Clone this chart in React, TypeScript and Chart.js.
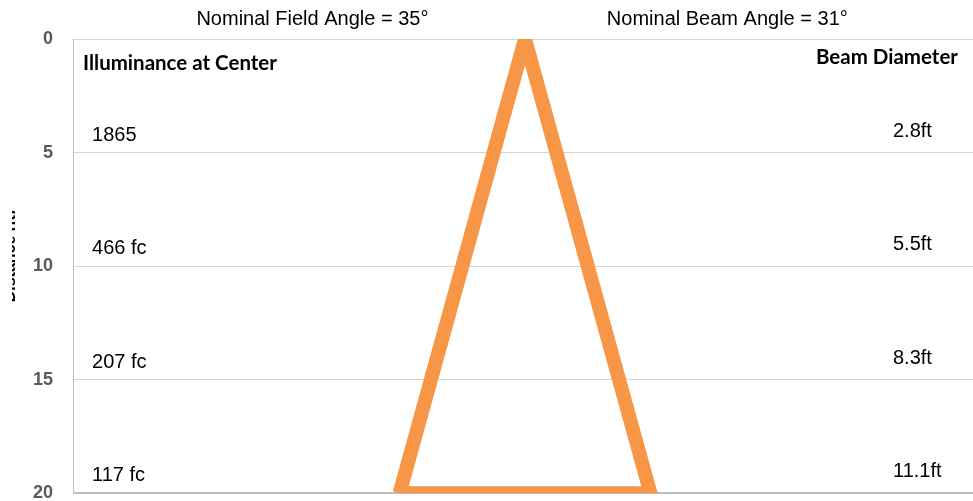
import React, { useEffect, useRef } from "react";
import { Chart, registerables } from "chart.js";

Chart.register(...registerables);

// ---- data ----
const fieldAngle = 35;
const beamAngle = 31;
const distances = [5, 10, 15, 20];
const illuminance = ["1865", "466 fc", "207 fc", "117 fc"];
const beamDiameter = ["2.8ft", "5.5ft", "8.3ft", "11.1ft"];
// outline of the light cone (feet across, feet of throw)
const coneX = [-6.3, 0, 6.3, -6.3];
const coneY = [20, 0, 20, 20];
const yMin = 0;
const yMax = 20;
const yStep = 5;
const xMin = -22.7;
const xMax = 22.5;
const axisTitle = "Distance (ft)";

const TEXT_FONT = '20px "Liberation Sans", Arial, sans-serif';
const HEAD_FONT = 'bold 20.5px Lato, "Open Sans", sans-serif';

const labelsPlugin = {
  id: "beamLabels",
  afterDraw(chart: any) {
    const { ctx, chartArea, scales } = chart;
    const { left, right, top, bottom } = chartArea;
    const w = right - left;
    const y = scales.y;
    ctx.save();
    ctx.fillStyle = "#000";
    ctx.textBaseline = "alphabetic";

    // headers above plot
    ctx.font = TEXT_FONT;
    ctx.textAlign = "center";
    ctx.fillText(`Nominal Field Angle = ${fieldAngle}°`, left + w * 0.266, 25);
    ctx.fillText(`Nominal Beam Angle = ${beamAngle}°`, left + w * 0.727, 25);

    // column headers
    ctx.font = HEAD_FONT;
    ctx.textAlign = "left";
    ctx.fillText("Illuminance at Center", left + 10, top + 31);
    ctx.textAlign = "right";
    ctx.fillText("Beam Diameter", right - 15, top + 25);

    // values
    ctx.font = TEXT_FONT;
    distances.forEach((d, i) => {
      const py = y.getPixelForValue(d);
      ctx.textAlign = "left";
      ctx.fillText(illuminance[i], left + 19, py - 12);
      ctx.fillText(beamDiameter[i], right - 80, py - 16);
    });
    ctx.restore();

    // clipped axis title (only a sliver visible)
    ctx.save();
    ctx.beginPath();
    ctx.rect(12, top, 3, bottom - top);
    ctx.clip();
    ctx.translate(15, (top + bottom) / 2 - 10);
    ctx.rotate(-Math.PI / 2);
    ctx.textAlign = "center";
    ctx.textBaseline = "alphabetic";
    ctx.font = 'bold 16px "Liberation Sans", Arial, sans-serif';
    ctx.fillStyle = "#000";
    ctx.fillText(axisTitle, 0, 0);
    ctx.restore();
  },
};

export default function App() {
  const ref = useRef<HTMLCanvasElement | null>(null);

  useEffect(() => {
    if (!ref.current) return;
    const chart = new Chart(ref.current, {
      type: "line",
      data: {
        datasets: [
          {
            data: coneX.map((x, i) => ({ x, y: coneY[i] })),
            borderColor: "#F79646",
            borderWidth: 14,
            pointRadius: 0,
            fill: false,
            tension: 0,
            clip: 0,
            borderJoinStyle: "miter",
          } as any,
        ],
      },
      options: {
        animation: false,
        responsive: false,
        devicePixelRatio: 1,
        layout: { padding: { top: 39, left: 13, right: 0, bottom: 15 } },
        plugins: {
          legend: { display: false },
          tooltip: { enabled: false },
        },
        scales: {
          x: {
            type: "linear",
            min: xMin,
            max: xMax,
            display: false,
          },
          y: {
            type: "linear",
            reverse: true,
            min: yMin,
            max: yMax,
            ticks: {
              stepSize: yStep,
              padding: 20,
              color: "#595959",
              font: { family: '"Liberation Sans", Arial, sans-serif', size: 18, weight: "bold" },
            },
            grid: {
              drawTicks: false,
              color: (c: any) => (c.tick && c.tick.value === yMax ? "#bfbfbf" : "#d4d4d4"),
              lineWidth: (c: any) => (c.tick && c.tick.value === yMax ? 2 : 1),
            },
            border: { display: true, color: "#bfbfbf", width: 1 },
          },
        },
      },
      plugins: [labelsPlugin],
    });
    return () => chart.destroy();
  }, []);

  return (
    <div
      style={{
        position: "fixed",
        left: 0,
        top: 0,
        width: 973,
        height: 501,
        overflow: "hidden",
        background: "#fff",
      }}
    >
      <canvas ref={ref} width={973} height={524} style={{ display: "block" }} />
    </div>
  );
}
